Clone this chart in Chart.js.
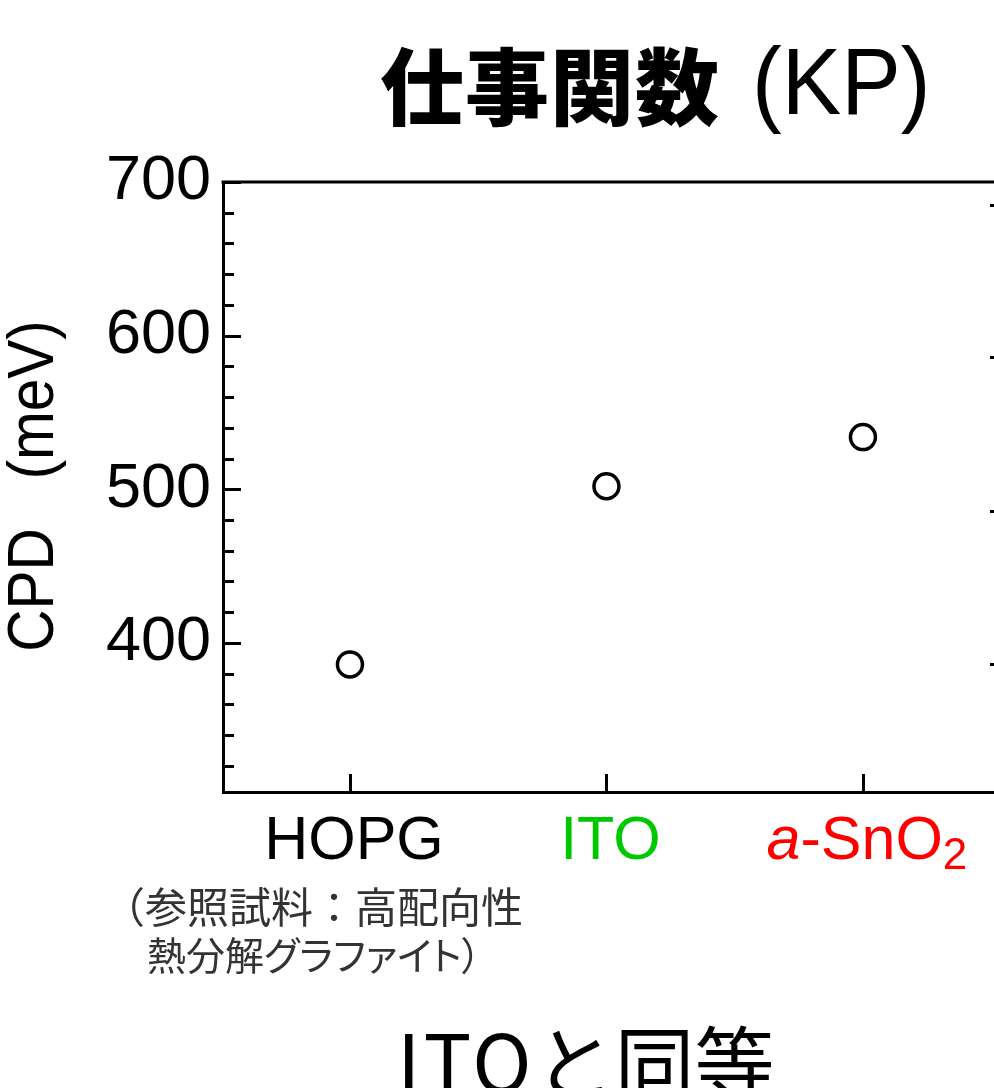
<!DOCTYPE html>
<html>
<head>
<meta charset="utf-8">
<script src="https://cdn.jsdelivr.net/npm/chart.js@4.4.1/dist/chart.umd.min.js"></script>
<style>
  html, body { margin: 0; padding: 0; background: #fff; overflow: hidden; width: 994px; height: 1088px; }
  #chartWrap { position: absolute; left: 0; top: 0; width: 1020px; height: 1088px; }
  .txt { position: absolute; white-space: nowrap; line-height: 1; margin: 0; }
  #titleJp { left: 380px; top: 22px; font: 900 84px "Noto Sans CJK JP", sans-serif; color: #000; letter-spacing: 1px; }
  #titleKp { left: 752px; top: 28px; font: 400 94px "Liberation Sans", Arial, sans-serif; color: #000; transform: scaleX(0.95); transform-origin: left top; }
  #note1 { left: 103px; top: 874px; font: 400 42px "Noto Sans CJK JP", sans-serif; color: #333; }
  #note2 { left: 147px; top: 925px; font: 400 39px "Noto Sans CJK JP", sans-serif; color: #333; font-feature-settings: "palt"; }
  #bottomText { left: 397px; top: 1000px; font: 400 80px "Noto Sans CJK JP", sans-serif; color: #000; }
  #bottomText .lat { letter-spacing: 3px; }
</style>
</head>
<body>
<div id="chartWrap"><canvas id="cpdChart" width="1020" height="1088"></canvas></div>
<div class="txt" id="titleJp">仕事関数</div>
<div class="txt" id="titleKp">(KP)</div>
<div class="txt" id="note1">（参照試料：高配向性</div>
<div class="txt" id="note2">熱分解グラファイト）</div>
<div class="txt" id="bottomText"><span class="lat">ITO</span>と同等</div>
<script>
// samples on the x axis
const categories = ['HOPG', 'ITO', 'a-SnO2'];
const labelColors = ['#000000', '#00c800', '#ff0000'];
// contact potential difference, meV
const cpdValues = [386, 502, 534];

// y axis ticks
const yMajorTicks = [400, 500, 600, 700];
const yMinorStep = 20;
// tick marks on the (cut off) right axis
const rightTicks = [386, 486, 586, 685];

const yTitle = 'CPD   (meV)';

function splitLabel(text) {
  // "a-SnO2" -> italic a, plain -SnO, subscript 2
  const runs = [];
  let rest = text;
  if (rest.startsWith('a-')) {
    runs.push({ t: 'a', italic: true });
    rest = rest.slice(1);
  }
  const m = rest.match(/^(.*?)(\d+)$/);
  if (m) {
    runs.push({ t: m[1] });
    runs.push({ t: m[2], sub: true });
  } else {
    runs.push({ t: rest });
  }
  return runs;
}

const axisExtras = {
  id: 'axisExtras',
  afterDraw(chart) {
    const { ctx, chartArea, scales } = chart;
    const x = scales.x, y = scales.y;
    ctx.save();
    ctx.strokeStyle = '#000';
    ctx.lineWidth = 3;
    ctx.lineCap = 'butt';

    // frame top + right
    ctx.beginPath();
    ctx.moveTo(chartArea.left - 1.5, chartArea.top);
    ctx.lineTo(chartArea.right, chartArea.top);
    ctx.lineTo(chartArea.right, chartArea.bottom);
    ctx.stroke();

    // inward ticks on left axis
    ctx.beginPath();
    for (let v = Math.ceil(y.min / yMinorStep) * yMinorStep; v <= y.max; v += yMinorStep) {
      const py = Math.round(y.getPixelForValue(v)) + 0.5;
      const len = yMajorTicks.includes(v) ? 18 : 11;
      ctx.moveTo(chartArea.left, py);
      ctx.lineTo(chartArea.left + len, py);
    }
    // right axis ticks
    rightTicks.forEach(v => {
      const py = Math.round(y.getPixelForValue(v)) + 0.5;
      ctx.moveTo(chartArea.right, py);
      ctx.lineTo(chartArea.right - 14, py);
    });
    // bottom ticks at categories
    categories.forEach((c, i) => {
      const px = Math.round(x.getPixelForValue(i)) + 0.5;
      ctx.moveTo(px, chartArea.bottom);
      ctx.lineTo(px, chartArea.bottom - 18);
    });
    ctx.stroke();

    // category labels
    ctx.textBaseline = 'alphabetic';
    ctx.textAlign = 'left';
    categories.forEach((c, i) => {
      const runs = splitLabel(c);
      const fonts = runs.map(r => (r.italic ? 'italic ' : '') + (r.sub ? '44px' : '61px') + ' "Liberation Sans", Arial, sans-serif');
      let total = 0;
      const widths = runs.map((r, k) => {
        ctx.font = fonts[k];
        const w = ctx.measureText(r.t).width;
        total += w;
        return w;
      });
      let px = x.getPixelForValue(i) + 4 - total / 2;
      ctx.fillStyle = labelColors[i];
      runs.forEach((r, k) => {
        ctx.font = fonts[k];
        ctx.fillText(r.t, px, r.sub ? 869 : 859);
        px += widths[k];
      });
    });

    // y axis title, slightly narrow face
    ctx.translate(35, 486);
    ctx.rotate(-Math.PI / 2);
    ctx.scale(0.9, 1);
    ctx.font = '65px "Liberation Sans", Arial, sans-serif';
    ctx.fillStyle = '#000';
    ctx.textAlign = 'center';
    ctx.textBaseline = 'middle';
    ctx.fillText(yTitle, 0, 0);
    ctx.restore();
  }
};

new Chart(document.getElementById('cpdChart'), {
  type: 'scatter',
  data: {
    datasets: [{
      label: 'CPD',
      data: cpdValues.map((v, i) => ({ x: i, y: v })),
      pointStyle: 'circle',
      pointRadius: 12.5,
      pointHoverRadius: 12.5,
      borderWidth: 3.5,
      borderColor: '#000',
      backgroundColor: '#fff'
    }]
  },
  options: {
    responsive: false,
    animation: false,
    devicePixelRatio: 1,
    layout: { padding: { top: 182, right: 16, left: 0, bottom: 0 } },
    plugins: {
      legend: { display: false },
      tooltip: { enabled: false }
    },
    scales: {
      x: {
        type: 'linear',
        min: -0.495,
        max: 2.55,
        grid: { display: false },
        border: { display: true, width: 3, color: '#000' },
        ticks: { display: false },
        afterFit: s => { s.height = 296; }
      },
      y: {
        min: 303,
        max: 700,
        grid: { display: false },
        border: { display: true, width: 3, color: '#000' },
        ticks: {
          color: '#000',
          padding: 4,
          font: { family: '"Liberation Sans", Arial, sans-serif', size: 63 }
        },
        afterBuildTicks: s => { s.ticks = yMajorTicks.map(v => ({ value: v })); },
        afterFit: s => { s.width = 223; }
      }
    }
  },
  plugins: [axisExtras]
});
</script>
</body>
</html>
